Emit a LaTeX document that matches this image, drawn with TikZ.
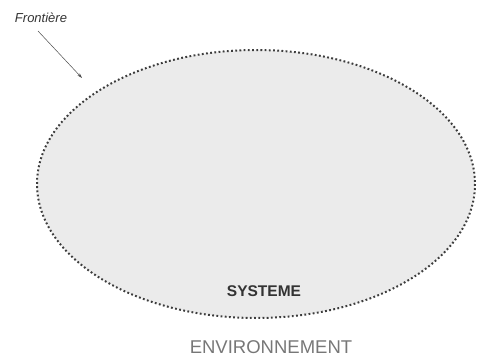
\documentclass[tikz,border=0pt]{standalone}
\usepackage{fontspec}
\setmainfont{Liberation Sans}
\usetikzlibrary{arrows.meta}
\definecolor{fondsys}{HTML}{EBEBEB}
\definecolor{bord}{HTML}{3C3C3C}
\definecolor{envgris}{HTML}{777777}
\begin{document}
\begin{tikzpicture}[x=1pt, y=-1pt,
    frontiere/.style={fill=fondsys, draw=bord, line width=2pt, dash pattern=on 1.8pt off 2.4pt},
    fleche/.style={-{Stealth[length=5pt,width=3pt]}, draw=black!70, line width=0.5pt}]
  \useasboundingbox (0,0) rectangle (477,356);
  % le systeme et sa frontiere
  \draw[frontiere] (256,184) ellipse [x radius=219, y radius=134];
  \node[font=\bfseries\fontsize{15.5}{17}\selectfont, text=black!80] (sys) at (264,291) {SYSTEME};
  % etiquette de la frontiere
  \node[font=\itshape\fontsize{13}{15}\selectfont, text=black!80] (front) at (41,18) {Frontière};
  \coordinate (bordpt) at (82,78);
  \draw[fleche] (38,31) -- (bordpt);
  % environnement
  \node[font=\fontsize{18.5}{20}\selectfont, text=envgris] (env) at (271,347) {ENVIRONNEMENT};
\end{tikzpicture}
\end{document}
